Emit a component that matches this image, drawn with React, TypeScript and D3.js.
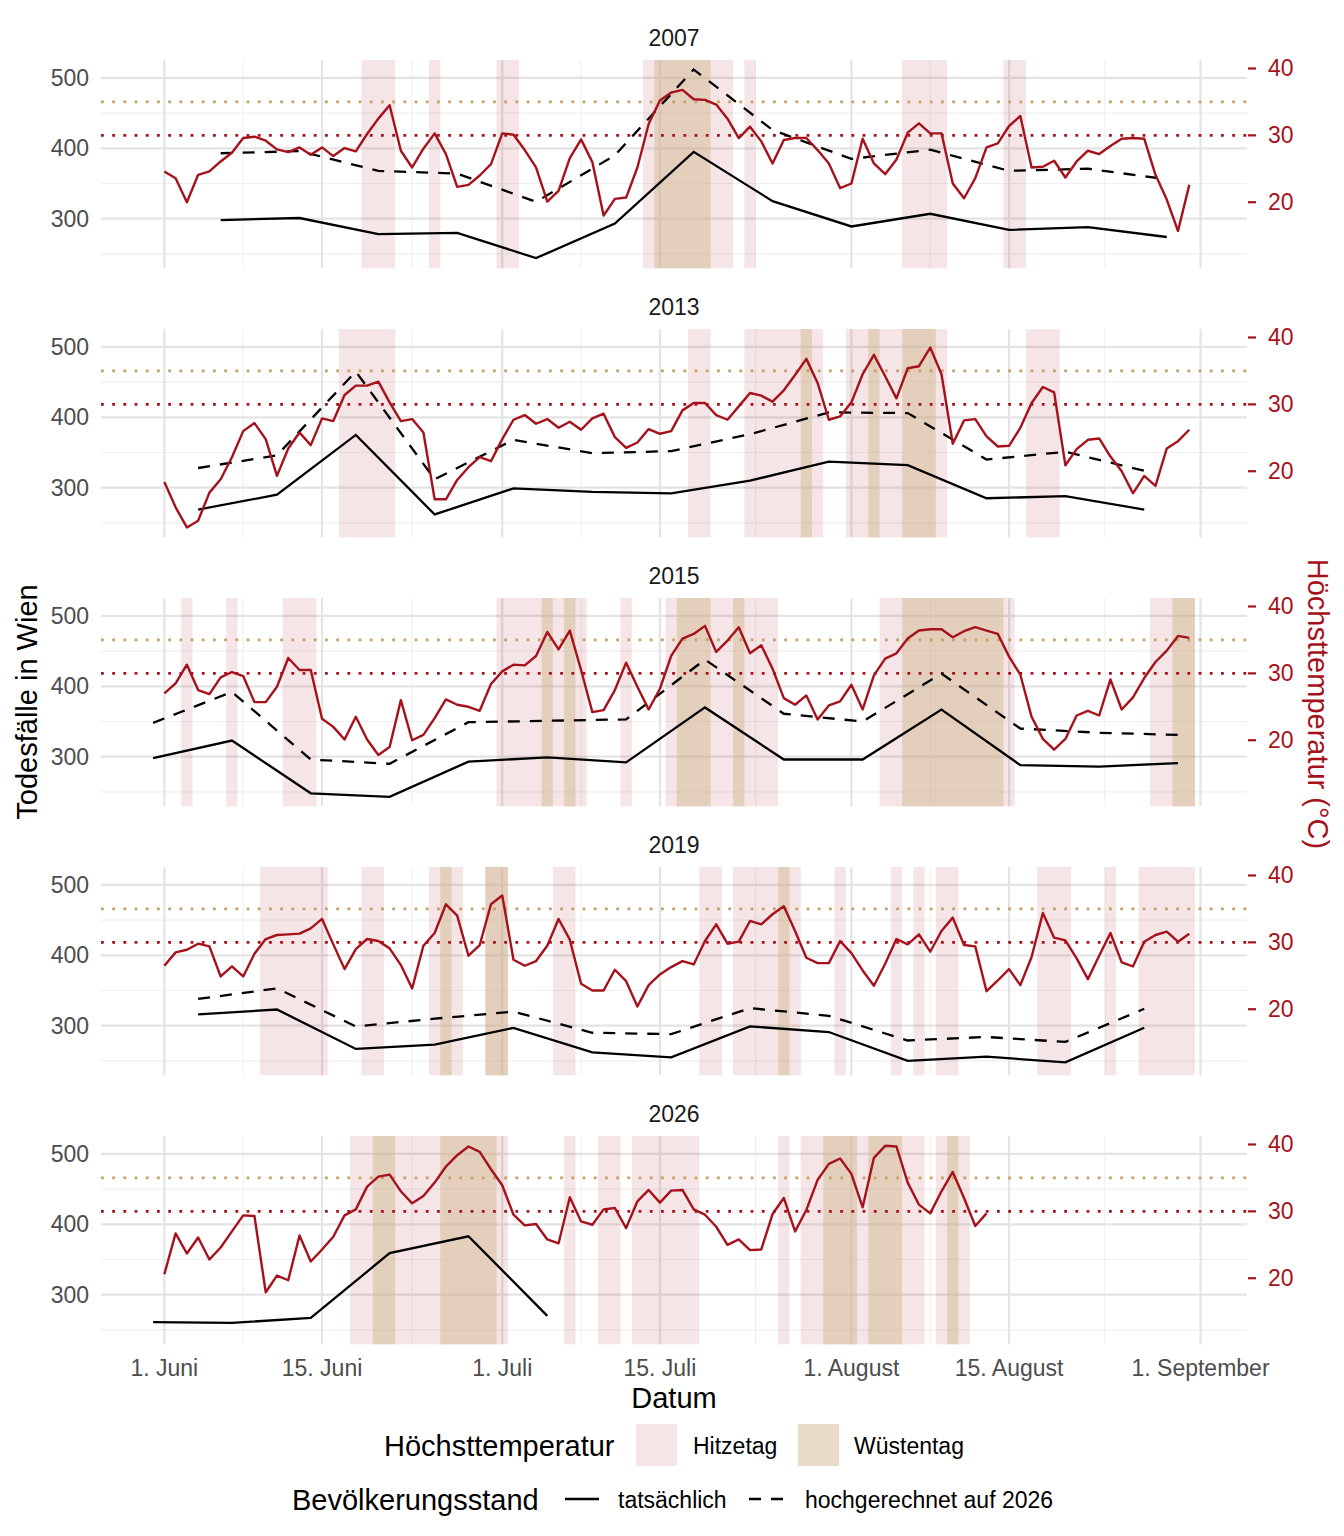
import * as d3 from 'd3';

const years = ['2007', '2013', '2015', '2019', '2026'];

// tägliche Höchsttemperatur in °C, ab 1. Juni
const temp2007 = [
  24.6, 23.6, 20.0, 24.1, 24.6, 26.1, 27.4, 29.6, 29.8, 29.2,
  27.9, 27.5, 28.2, 27.1, 28.2, 26.9, 28.1, 27.6, 30.2, 32.5,
  34.5, 27.7, 25.2, 28.0, 30.3, 27.2, 22.3, 22.6, 24.0, 25.7,
  30.3, 30.1, 27.8, 25.2, 20.1, 21.7, 26.6, 29.4, 26.0, 18.0,
  20.5, 20.7, 25.2, 31.7, 35.2, 36.4, 36.8, 35.4, 35.3, 34.6,
  32.5, 29.6, 31.3, 29.1, 25.8, 29.3, 29.6, 29.6, 27.8, 25.8,
  22.1, 22.8, 29.5, 25.8, 24.2, 26.4, 30.4, 31.8, 30.3, 30.3,
  22.8, 20.6, 23.6, 28.2, 28.8, 31.4, 32.9, 25.2, 25.3, 26.2,
  23.7, 26.1, 27.7, 27.2, 28.4, 29.5, 29.6, 29.5, 24.1, 20.4,
  15.7, 22.6,
];
const temp2013 = [
  18.4, 14.6, 11.6, 12.6, 16.8, 18.8, 22.1, 26.0, 27.2, 24.8,
  19.3, 23.4, 25.8, 23.9, 27.9, 27.5, 31.4, 32.8, 32.8, 33.4,
  30.3, 27.5, 27.8, 25.8, 15.8, 15.8, 18.7, 20.6, 22.1, 21.5,
  24.8, 27.7, 28.4, 27.1, 27.8, 26.5, 27.4, 26.2, 27.9, 28.6,
  25.1, 23.5, 24.3, 26.3, 25.6, 26.0, 29.1, 30.2, 30.2, 28.4,
  27.7, 29.7, 31.7, 31.3, 30.4, 32.1, 34.4, 36.8, 33.2, 27.7,
  28.2, 30.3, 34.5, 37.4, 34.2, 30.9, 35.4, 35.7, 38.5, 34.5,
  24.1, 27.6, 27.8, 25.2, 23.7, 23.8, 26.5, 30.2, 32.6, 31.8,
  20.9, 23.3, 24.7, 24.9, 22.2, 20.0, 16.7, 19.3, 17.8, 23.4,
  24.5, 26.2,
];
const temp2015 = [
  27.0, 28.5, 31.3, 27.5, 26.9, 29.4, 30.2, 29.6, 25.7, 25.7,
  28.0, 32.3, 30.5, 30.5, 23.2, 22.0, 20.1, 23.5, 20.1, 17.8,
  19.0, 26.0, 20.0, 20.8, 23.3, 26.1, 25.3, 25.0, 24.4, 28.4,
  30.3, 31.3, 31.2, 32.6, 36.2, 33.6, 36.4, 30.5, 24.2, 24.5,
  27.5, 31.6, 28.0, 24.6, 27.7, 32.6, 35.2, 35.9, 37.1, 33.2,
  34.9, 36.9, 33.0, 34.2, 30.7, 26.3, 25.3, 26.7, 23.1, 25.2,
  25.8, 28.3, 24.6, 29.7, 32.2, 33.0, 35.2, 36.4, 36.6, 36.6,
  35.4, 36.3, 36.9, 36.4, 35.9, 32.5, 29.8, 23.5, 20.2, 18.6,
  20.2, 23.7, 24.4, 23.7, 29.1, 24.6, 26.4, 29.3, 31.7, 33.4,
  35.6, 35.3,
];
const temp2019 = [
  26.5, 28.5, 28.9, 29.8, 29.4, 24.9, 26.4, 24.9, 28.3, 30.5,
  31.1, 31.2, 31.3, 32.1, 33.5, 29.7, 26.0, 29.0, 30.5, 30.2,
  29.1, 26.6, 23.1, 29.5, 31.4, 35.7, 34.0, 28.0, 29.6, 35.7,
  37.0, 27.4, 26.5, 27.2, 29.5, 33.5, 30.4, 23.8, 22.8, 22.8,
  25.9, 24.2, 20.4, 23.6, 25.2, 26.3, 27.2, 26.7, 30.2, 32.7,
  29.8, 30.1, 33.2, 32.7, 34.2, 35.4, 31.7, 27.7, 26.9, 26.9,
  30.2, 28.4, 25.8, 23.5, 26.8, 30.5, 29.7, 31.2, 28.6, 31.7,
  33.7, 29.6, 29.4, 22.7, 24.3, 26.0, 23.6, 27.8, 34.4, 30.7,
  30.3, 27.6, 24.5, 28.0, 31.4, 27.0, 26.4, 30.1, 31.1, 31.6,
  30.1, 31.3,
];
const temp2026 = [
  20.6, 26.7, 23.7, 26.1, 22.8, 24.6, 27.0, 29.4, 29.3, 17.9,
  20.4, 19.7, 26.4, 22.5, 24.3, 26.2, 29.4, 30.3, 33.7, 35.2,
  35.5, 33.0, 31.2, 32.3, 34.3, 36.7, 38.4, 39.7, 38.9, 36.3,
  33.9, 29.5, 27.9, 28.1, 25.8, 25.2, 32.1, 28.5, 28.0, 30.3,
  30.5, 27.5, 31.5, 33.2, 31.3, 33.1, 33.2, 30.3, 29.5, 27.7,
  25.0, 25.8, 24.2, 24.3, 29.6, 32.0, 27.0, 30.2, 34.7, 37.1,
  37.9, 35.6, 30.6, 38.0, 39.8, 39.7, 34.3, 31.0, 29.7, 33.0,
  35.9, 32.0, 27.8, 29.7,
];

// wöchentliche Todesfälle in Wien
const weekStart = ['2007-06-06', '2013-06-04', '2015-05-31', '2019-06-04', '2026-05-31'];
const actual2007 = [298, 301, 278, 280, 244, 293, 395, 325, 289, 307, 284, 288, 274];
const projected2007 = [393, 396, 368, 364, 324, 390, 512, 426, 385, 398, 368, 371, 356];
const actual2013 = [269, 290, 375, 262, 299, 294, 292, 310, 337, 332, 285, 288, 269];
const projected2013 = [328, 346, 465, 312, 368, 349, 352, 376, 407, 406, 340, 351, 324];
const actual2015 = [298, 323, 248, 243, 293, 299, 292, 370, 296, 296, 367, 288, 286, 291];
const projected2015 = [348, 392, 296, 290, 349, 351, 353, 438, 361, 350, 418, 340, 334, 331];
const actual2019 = [316, 323, 267, 273, 297, 262, 255, 299, 291, 250, 256, 248, 297];
const projected2019 = [338, 353, 299, 310, 320, 290, 288, 325, 314, 279, 284, 277, 324];
const actual2026 = [261, 260, 267, 359, 383, 270];
const projected2026: number[] = [];

const xTickDates = ['06-01', '06-15', '07-01', '07-15', '08-01', '08-15', '09-01'];
const xTickLabels = ['1. Juni', '15. Juni', '1. Juli', '15. Juli', '1. August', '15. August', '1. September'];
const deathTicks = [300, 400, 500];
const tempTicks = [20, 30, 40];
const heatThreshold = 30;
const desertThreshold = 35;

const temps = [temp2007, temp2013, temp2015, temp2019, temp2026];
const actuals = [actual2007, actual2013, actual2015, actual2019, actual2026];
const projecteds = [projected2007, projected2013, projected2015, projected2019, projected2026];

// sekundäre Achse: Todesfälle = a + b * Temperatur
const tempToDeaths = (t: number) => 133.4 + 9.5 * t;

const RED = '#a6121b';
const GOLD = '#c9a165';
const TAN = '#d1b991';
const FONT = "'Liberation Sans', Arial, Helvetica, sans-serif";
const SMALL = 23;
const TITLE = 29;

const parse = d3.timeParse('%Y-%m-%d');
const dayOffset = (year: number, date: string) =>
  d3.timeDay.count(new Date(year, 5, 1), parse(date) as Date);

const panelLeft = 101;
const panelRight = 1247;
const panelTop = 60;
const panelHeight = 208.3;
const panelStep = 269;

const runs = (values: number[], threshold: number) => {
  const out: [number, number][] = [];
  let start = -1;
  values.forEach((v, i) => {
    if (v >= threshold && start < 0) start = i;
    if ((v < threshold || i === values.length - 1) && start >= 0) {
      out.push([start, v >= threshold ? i : i - 1]);
      start = -1;
    }
  });
  return out;
};

export default function App() {
  const weekDays = years.map((y, i) =>
    actuals[i].map((_, j) => dayOffset(+y, weekStart[i]) + 7 * j)
  );
  const minDay = Math.min(-0.5, ...weekDays.flat());
  const maxDay = Math.max(...temps.map((t) => t.length - 0.5), ...weekDays.flat());
  const padX = (maxDay - minDay) * 0.05;
  const x = d3.scaleLinear().domain([minDay - padX, maxDay + padX]).range([panelLeft, panelRight]);

  const allY = [
    ...actuals.flat(),
    ...projecteds.flat(),
    ...temps.flat().map(tempToDeaths),
  ];
  const [yMin, yMax] = d3.extent(allY) as [number, number];
  const padY = (yMax - yMin) * 0.05;
  const y = d3.scaleLinear().domain([yMin - padY, yMax + padY]).range([panelHeight, 0]);

  const majorX = xTickDates.map((d) => dayOffset(2001, `2001-${d}`));
  const minorX = majorX.slice(1).map((d, i) => (d + majorX[i]) / 2);
  const minorY = deathTicks.map((t) => t - 50);

  const tempLine = d3
    .line<number>()
    .x((_, j) => x(j))
    .y((t) => y(tempToDeaths(t)));

  return (
    <svg
      width={1344}
      height={1536}
      style={{ position: 'absolute', left: 0, top: 0, background: '#fff' }}
      fontFamily={FONT}
    >
      {years.map((year, i) => {
        const top = panelTop + i * panelStep;
        const weekLine = d3
          .line<number>()
          .x((_, j) => x(weekDays[i][j]))
          .y((v) => y(v));
        return (
          <g key={year}>
            <text x={(panelLeft + panelRight) / 2} y={top - 22} fontSize={SMALL} fill="#1a1a1a"
              textAnchor="middle" dominantBaseline="central">{year}</text>
            <g transform={`translate(0,${top})`}>
              {minorY.map((v) => (
                <line key={'my' + v} x1={panelLeft} x2={panelRight} y1={y(v)} y2={y(v)}
                  stroke="#efefef" strokeWidth={1.1} />
              ))}
              {minorX.map((d) => (
                <line key={'mx' + d} x1={x(d)} x2={x(d)} y1={0} y2={panelHeight}
                  stroke="#efefef" strokeWidth={1.1} />
              ))}
              {deathTicks.map((v) => (
                <line key={'gy' + v} x1={panelLeft} x2={panelRight} y1={y(v)} y2={y(v)}
                  stroke="#e4e4e4" strokeWidth={2.2} />
              ))}
              {majorX.map((d) => (
                <line key={'gx' + d} x1={x(d)} x2={x(d)} y1={0} y2={panelHeight}
                  stroke="#e4e4e4" strokeWidth={2.2} />
              ))}
              {runs(temps[i], heatThreshold).map(([a, b]) => (
                <rect key={'h' + a} x={x(a - 0.5)} width={x(b + 0.5) - x(a - 0.5)} y={0}
                  height={panelHeight} fill={RED} fillOpacity={0.11} />
              ))}
              {runs(temps[i], desertThreshold).map(([a, b]) => (
                <rect key={'w' + a} x={x(a - 0.5)} width={x(b + 0.5) - x(a - 0.5)} y={0}
                  height={panelHeight} fill={TAN} fillOpacity={0.5} />
              ))}
              <line x1={panelLeft} x2={panelRight} y1={y(tempToDeaths(desertThreshold))}
                y2={y(tempToDeaths(desertThreshold))} stroke={GOLD} strokeWidth={2.8}
                strokeDasharray="2.8 8.4" />
              <line x1={panelLeft} x2={panelRight} y1={y(tempToDeaths(heatThreshold))}
                y2={y(tempToDeaths(heatThreshold))} stroke={RED} strokeWidth={2.8}
                strokeDasharray="2.8 8.4" />
              {projecteds[i].length > 0 && (
                <path d={weekLine(projecteds[i]) ?? ''} fill="none" stroke="#000"
                  strokeWidth={2.3} strokeDasharray="12 10" />
              )}
              <path d={weekLine(actuals[i]) ?? ''} fill="none" stroke="#000" strokeWidth={2.3} />
              <path d={tempLine(temps[i]) ?? ''} fill="none" stroke={RED} strokeWidth={2.4}
                strokeLinejoin="round" />
              {deathTicks.map((v) => (
                <text key={'ly' + v} x={89} y={y(v)} fontSize={SMALL} fill="#4d4d4d"
                  textAnchor="end" dominantBaseline="central">{v}</text>
              ))}
              {tempTicks.map((t) => (
                <g key={'ry' + t}>
                  <line x1={panelRight + 1} x2={panelRight + 9} y1={y(tempToDeaths(t))}
                    y2={y(tempToDeaths(t))} stroke={RED} strokeWidth={2.2} />
                  <text x={1268} y={y(tempToDeaths(t))} fontSize={SMALL} fill={RED}
                    dominantBaseline="central">{t}</text>
                </g>
              ))}
            </g>
          </g>
        );
      })}

      {majorX.map((d, k) => (
        <text key={'xl' + d} x={x(d)} y={1368} fontSize={SMALL} fill="#4d4d4d"
          textAnchor="middle" dominantBaseline="central">{xTickLabels[k]}</text>
      ))}
      <text x={(panelLeft + panelRight) / 2} y={1398} fontSize={TITLE} textAnchor="middle"
        dominantBaseline="central">Datum</text>
      <text transform="translate(27,702) rotate(-90)" fontSize={TITLE} textAnchor="middle"
        dominantBaseline="central">Todesfälle in Wien</text>
      <text transform="translate(1318,704) rotate(90)" fontSize={TITLE} textAnchor="middle"
        dominantBaseline="central" fill={RED}>Höchsttemperatur (°C)</text>

      <g>
        <text x={384} y={1446} fontSize={TITLE} dominantBaseline="central">Höchsttemperatur</text>
        <rect x={636} y={1424} width={41} height={42} fill={RED} fillOpacity={0.11} />
        <text x={693} y={1446} fontSize={SMALL} dominantBaseline="central">Hitzetag</text>
        <rect x={798} y={1424} width={41} height={42} fill={TAN} fillOpacity={0.5} />
        <text x={854} y={1446} fontSize={SMALL} dominantBaseline="central">Wüstentag</text>

        <text x={292} y={1500} fontSize={TITLE} dominantBaseline="central">Bevölkerungsstand</text>
        <line x1={565} x2={599} y1={1499} y2={1499} stroke="#000" strokeWidth={2.3} />
        <text x={618} y={1500} fontSize={SMALL} dominantBaseline="central">tatsächlich</text>
        <line x1={749} x2={785} y1={1499} y2={1499} stroke="#000" strokeWidth={2.3}
          strokeDasharray="12 10" />
        <text x={805} y={1500} fontSize={SMALL} dominantBaseline="central">hochgerechnet auf 2026</text>
      </g>
    </svg>
  );
}
